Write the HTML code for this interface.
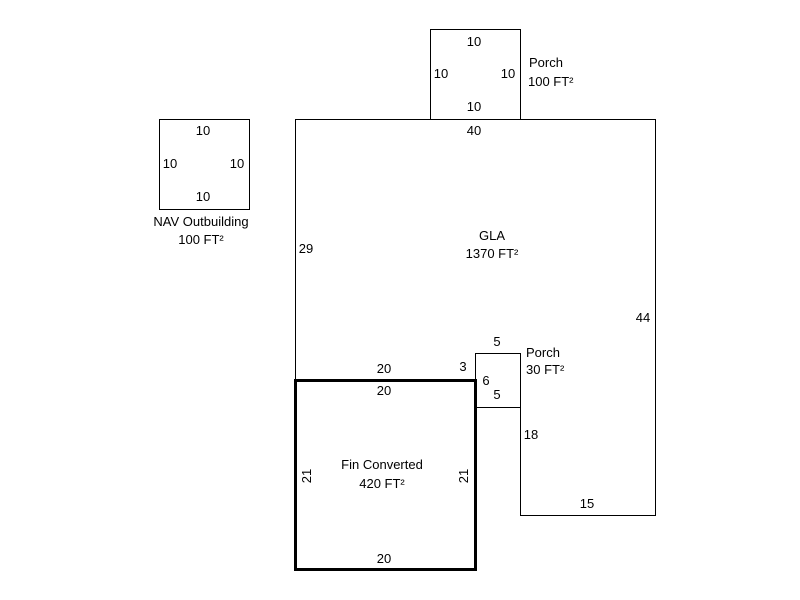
<!DOCTYPE html>
<html><head><style>html,body{margin:0;padding:0;background:#fff}svg{display:block}text{font-family:"Liberation Sans",Arial,sans-serif;font-size:13px;fill:#000}</style></head>
<body>
<svg width="800" height="600" viewBox="0 0 800 600">
<g fill="none" stroke="#000" stroke-width="1">
<rect x="430.5" y="29.5" width="90" height="90"/>
<rect x="159.5" y="119.5" width="90" height="90"/>
<polyline points="295.5,380 295.5,119.5 655.5,119.5 655.5,515.5 520.5,515.5 520.5,407.5 475.5,407.5"/>
<polyline points="475.5,380 475.5,353.5 520.5,353.5 520.5,408"/>
</g>
<rect x="295.5" y="380.5" width="180" height="189" fill="none" stroke="#000" stroke-width="3"/>
<g text-anchor="middle">
<text x="474" y="46">10</text>
<text x="441" y="78">10</text>
<text x="508" y="78">10</text>
<text x="474" y="111">10</text>
<text x="474" y="135">40</text>
<text x="203" y="135">10</text>
<text x="170" y="168">10</text>
<text x="237" y="168">10</text>
<text x="203" y="201">10</text>
<text x="201" y="226">NAV Outbuilding</text>
<text x="201" y="244">100 FT²</text>
<text x="492" y="240">GLA</text>
<text x="492" y="258">1370 FT²</text>
<text x="306" y="253">29</text>
<text x="643" y="322">44</text>
<text x="497" y="346">5</text>
<text x="463" y="371">3</text>
<text x="384" y="373">20</text>
<text x="384" y="395">20</text>
<text x="486" y="385">6</text>
<text x="497" y="399">5</text>
<text x="531" y="439">18</text>
<text x="587" y="508">15</text>
<text x="382" y="469">Fin Converted</text>
<text x="382" y="488">420 FT²</text>
<text x="384" y="563">20</text>
<text transform="translate(311,476) rotate(-90)">21</text>
<text transform="translate(468,476) rotate(-90)">21</text>
</g>
<text x="529" y="67">Porch</text>
<text x="528" y="86">100 FT²</text>
<text x="526" y="357">Porch</text>
<text x="526" y="374">30 FT²</text>
</svg>
</body></html>
